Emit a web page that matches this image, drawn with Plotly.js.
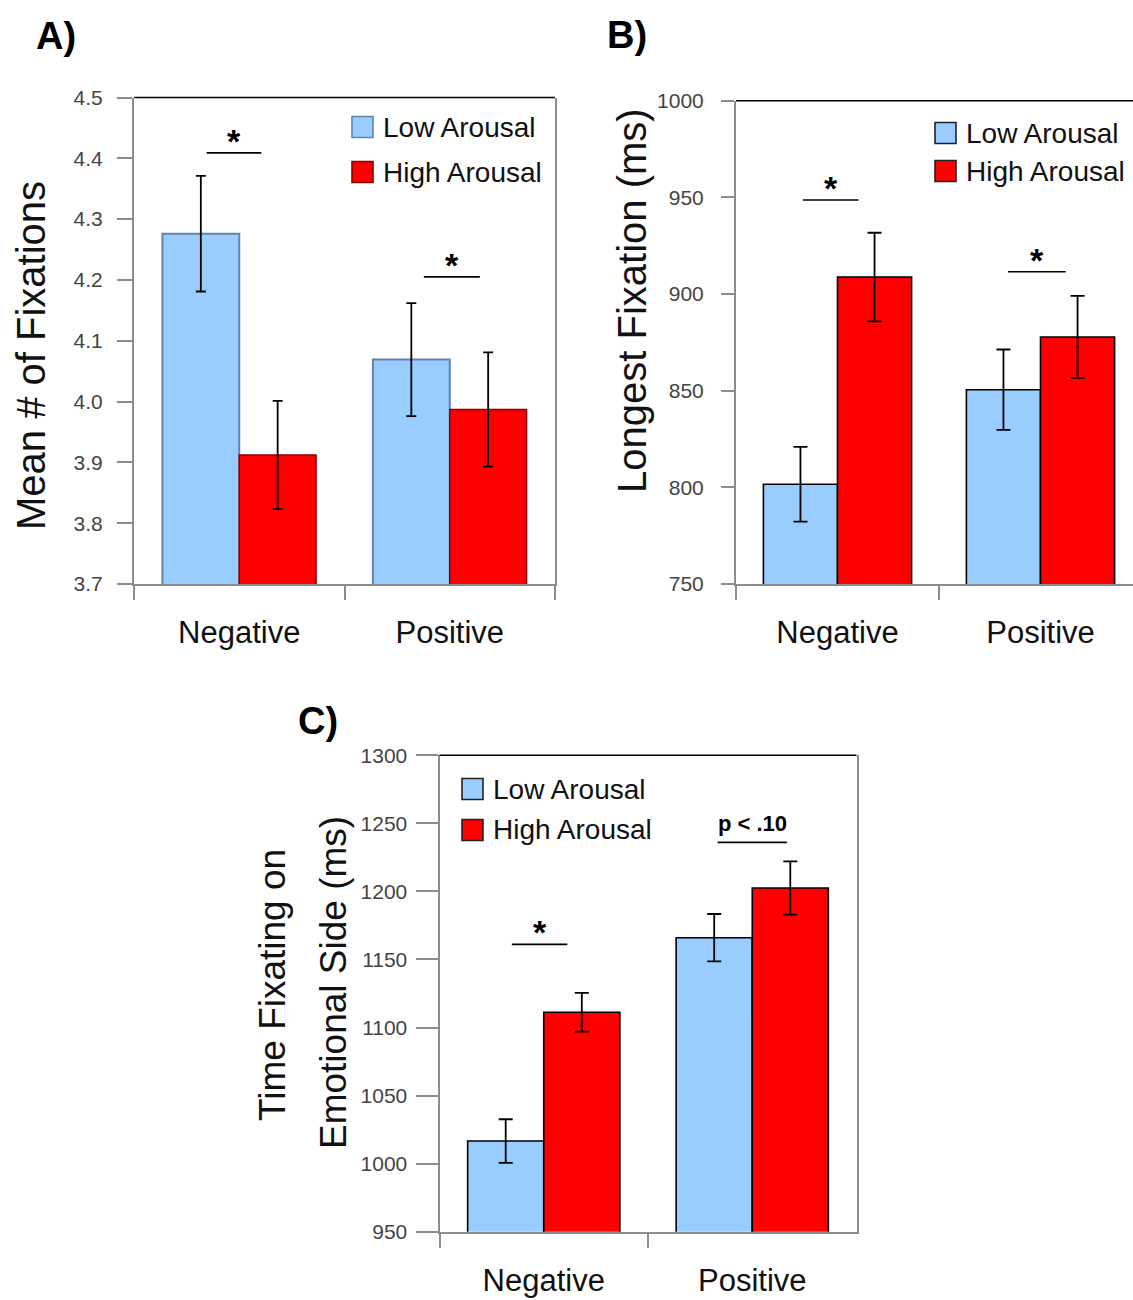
<!DOCTYPE html>
<html>
<head>
<meta charset="utf-8">
<script src="https://cdn.plot.ly/plotly-3.0.1.min.js"></script>
<style>
  html, body { margin: 0; padding: 0; background: #fff; }
  #chart { width: 1133px; height: 1300px; }
</style>
</head>
<body>
<div id="chart"></div>
<script>
// ---------------- data ----------------
const categories = ['Negative', 'Positive'];
const seriesNames = ['Low Arousal', 'High Arousal'];

// Panel A: Mean # of Fixations
const lowA = [4.276, 4.069];
const lowAErr = [0.095, 0.093];
const highA = [3.912, 3.987];
const highAErr = [0.089, 0.094];
const sigA = [4.409, 4.205];
const sigTextA = ['*', '*'];

// Panel B: Longest Fixation (ms)
const lowB = [801.6, 850.5];
const lowBErr = [19.3, 20.8];
const highB = [908.8, 877.8];
const highBErr = [22.9, 21.2];
const sigB = [948.6, 911.5];
const sigTextB = ['*', '*'];

// Panel C: Time Fixating on Emotional Side (ms)
const lowC = [1016.6, 1166.0];
const lowCErr = [16.0, 17.4];
const highC = [1111.2, 1202.5];
const highCErr = [14.2, 19.5];
const sigC = [1161.1, 1236.0];
const sigTextC = ['*', 'p < .10'];

// ---------------- style / layout helpers ----------------
const W = 1133, H = 1300;
const px = x => x / W;
const py = y => 1 - y / H;
const FONT = 'Liberation Sans, Arial, sans-serif';
const LOW_COLOR = '#99ccff';
const HIGH_COLOR = '#ff0000';

function barTrace(y, err, name, color, lineColor, lineWidth, capW, ax) {
  return {
    type: 'bar', x: categories, y: y, name: name,
    xaxis: 'x' + ax, yaxis: 'y' + ax, showlegend: false,
    marker: { color: color, line: { color: lineColor, width: lineWidth } },
    error_y: { type: 'data', array: err, visible: true, color: '#000', thickness: 1.8, width: capW }
  };
}

const data = [
  barTrace(lowA, lowAErr, seriesNames[0], LOW_COLOR, '#5f84ad', 2, 5, ''),
  barTrace(highA, highAErr, seriesNames[1], HIGH_COLOR, '#8a0000', 1.5, 5, ''),
  barTrace(lowB, lowBErr, seriesNames[0], LOW_COLOR, '#000', 1.6, 7, '2'),
  barTrace(highB, highBErr, seriesNames[1], HIGH_COLOR, '#000', 1.6, 7, '2'),
  barTrace(lowC, lowCErr, seriesNames[0], LOW_COLOR, '#000', 1.6, 7, '3'),
  barTrace(highC, highCErr, seriesNames[1], HIGH_COLOR, '#000', 1.6, 7, '3')
];

function xAxis(domain, range, anchor) {
  return {
    domain: domain, range: range, anchor: anchor, type: 'category',
    showline: true, linecolor: '#8c8c8c', linewidth: 2,
    ticks: 'outside', tickson: 'boundaries', ticklen: 14, tickcolor: '#8c8c8c', tickwidth: 2,
    ticklabelstandoff: 20,
    tickfont: { family: FONT, size: 31, color: '#111' },
    showgrid: false, zeroline: false, fixedrange: true
  };
}
function yAxis(domain, range, dtick, fmt, anchor, ticklen, standoff, mirror) {
  return {
    domain: domain, range: range, anchor: anchor, dtick: dtick, tick0: range[0], tickformat: fmt,
    showline: true, linecolor: '#8c8c8c', linewidth: 2, mirror: mirror,
    ticks: 'outside', ticklen: ticklen, tickcolor: '#8c8c8c', tickwidth: 2,
    ticklabelstandoff: standoff,
    tickfont: { family: FONT, size: 21, color: '#444' },
    showgrid: false, zeroline: false, fixedrange: true
  };
}

const shapes = [];
const annotations = [];

// top frame lines (black)
[['x', 'y'], ['x2', 'y2'], ['x3', 'y3']].forEach(([xa, ya]) => {
  shapes.push({ type: 'line', xref: xa + ' domain', yref: ya + ' domain', x0: 0, x1: 1, y0: 1, y1: 1,
    line: { color: '#000', width: 1.5 } });
});

// significance brackets
function sig(xa, ya, vals, texts, offsets, halfw, fontSizes, yshifts) {
  vals.forEach((v, i) => {
    const c = i + offsets[i];
    shapes.push({ type: 'line', xref: xa, yref: ya, x0: c - halfw[i], x1: c + halfw[i], y0: v, y1: v,
      line: { color: '#000', width: 1.6 } });
    annotations.push({ xref: xa, yref: ya, x: c, y: v, text: texts[i], showarrow: false,
      xanchor: 'center', yanchor: 'middle', yshift: yshifts[i],
      font: { family: FONT, size: fontSizes[i], color: '#000', weight: 'bold' } });
  });
}
sig('x', 'y', sigA, sigTextA, [-0.025, 0.01], [0.13, 0.133], [34, 34], [12, 12]);
sig('x2', 'y2', sigB, sigTextB, [-0.034, -0.018], [0.137, 0.142], [34, 34], [12, 12]);
sig('x3', 'y3', sigC, sigTextC, [-0.02, 0.0], [0.133, 0.166], [34, 22], [12, 19]);

// legends (boxes + text)
function legend(boxX, textX, rows, lowLine, highLine) {
  const cols = [[LOW_COLOR, lowLine], [HIGH_COLOR, highLine]];
  rows.forEach((r, i) => {
    shapes.push({ type: 'rect', xref: 'paper', yref: 'paper',
      x0: px(boxX), x1: px(boxX + 21), y0: py(r - 10.5), y1: py(r + 10.5),
      fillcolor: cols[i][0], line: { color: cols[i][1], width: 1.6 } });
    annotations.push({ xref: 'paper', yref: 'paper', x: px(textX), y: py(r), text: seriesNames[i],
      showarrow: false, xanchor: 'left', yanchor: 'middle',
      font: { family: FONT, size: 28, color: '#111' } });
  });
}
legend(352, 381, [127, 172], '#5f84ad', '#8a0000');
legend(935, 964, [133, 171], '#222', '#222');
legend(462, 491, [789, 830], '#222', '#222');

// panel labels
[['A)', 56, 36], ['B)', 627, 35], ['C)', 318, 721]].forEach(([t, x, y]) => {
  annotations.push({ xref: 'paper', yref: 'paper', x: px(x), y: py(y), text: t, showarrow: false,
    xanchor: 'center', yanchor: 'middle', font: { family: FONT, size: 38, color: '#000', weight: 'bold' } });
});

// y-axis titles
[['Mean # of Fixations', 31, 356, 40], ['Longest Fixation (ms)', 632, 301, 40],
 ['Time Fixating on', 272, 985, 37], ['Emotional Side (ms)', 333, 983, 37]].forEach(([t, x, y, s]) => {
  annotations.push({ xref: 'paper', yref: 'paper', x: px(x), y: py(y), text: t, showarrow: false,
    textangle: -90, xanchor: 'center', yanchor: 'middle', font: { family: FONT, size: s, color: '#111' } });
});

const layout = {
  width: W, height: H,
  margin: { l: 0, r: 0, t: 0, b: 0 },
  paper_bgcolor: '#fff', plot_bgcolor: '#fff',
  barmode: 'group', bargap: 0.27, bargroupgap: 0,
  showlegend: false,
  xaxis: xAxis([px(134), px(555)], [-0.5, 1.5], 'y'),
  yaxis: yAxis([py(584), py(97.5)], [3.7, 4.5], 0.1, '.1f', 'x', 15, 10, true),
  xaxis2: xAxis([px(736), 1], [-0.5, -0.5 + (W - 736) / 203], 'y2'),
  yaxis2: yAxis([py(584), py(100.7)], [750, 1000], 50, 'd', 'x2', 13, 13, false),
  xaxis3: xAxis([px(439.5), px(856.5)], [-0.5, 1.5], 'y3'),
  yaxis3: yAxis([py(1231.7), py(755.3)], [950, 1300], 50, 'd', 'x3', 22, 4, true),
  shapes: shapes,
  annotations: annotations
};

Plotly.newPlot('chart', data, layout, { displayModeBar: false, staticPlot: true });
</script>
</body>
</html>
